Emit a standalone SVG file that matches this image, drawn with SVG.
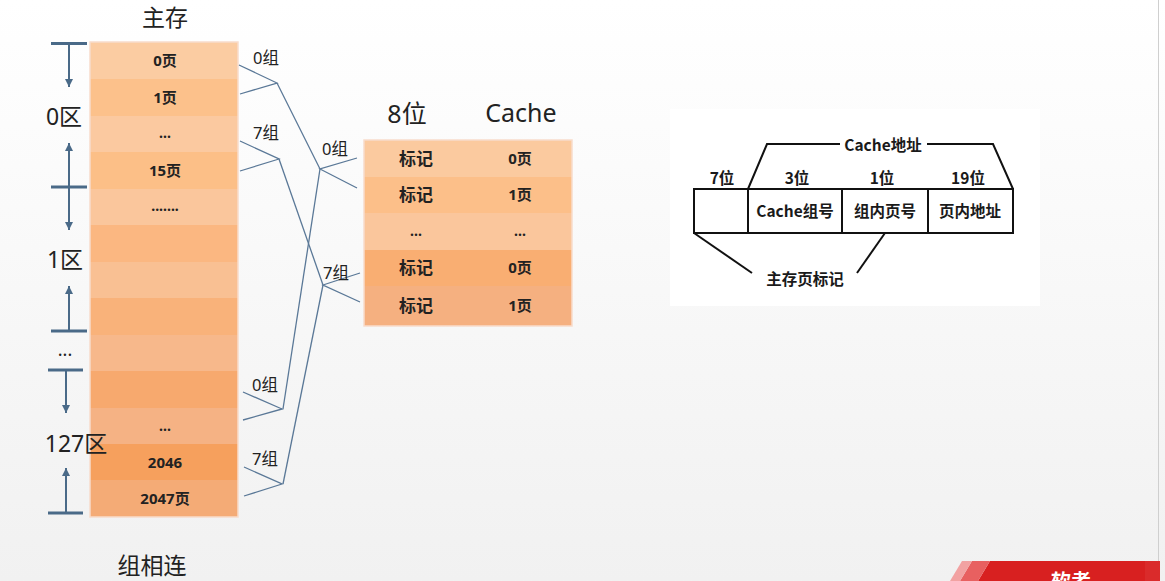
<svg xmlns="http://www.w3.org/2000/svg" width="1165" height="581" viewBox="0 0 1165 581">
<defs>
<linearGradient id="bg" x1="0" y1="0" x2="0" y2="1">
<stop offset="0" stop-color="#ffffff"/>
<stop offset="1" stop-color="#f1f1f1"/>
</linearGradient>
<marker id="ah" viewBox="0 0 10 10" refX="10" refY="5" markerWidth="8" markerHeight="8" markerUnits="userSpaceOnUse" orient="auto">
<path d="M0,0 L10,5 L0,10 z" fill="#4a6a88"/>
</marker>
<style>
.t{font-family:"Noto Sans","Noto Sans CJK SC",sans-serif;fill:#222;}
.big{font-size:23px;}
.cell{font-size:15px;font-weight:bold;text-anchor:middle;fill:#222;font-family:"Noto Sans","Noto Sans CJK SC",sans-serif;}
.dots{font-size:14px;}
.tag{font-size:17px;}
.grp{font-size:16.5px;font-family:"Noto Sans","Noto Sans CJK SC",sans-serif;fill:#222;}
.ax{stroke:#4a6a88;stroke-width:2;fill:none;}
.tick{stroke:#4a6a88;stroke-width:3;}
.cn{stroke:#5a7897;stroke-width:1.3;fill:none;}
.bx{stroke:#111;stroke-width:2;fill:none;}
.rt{font-family:"Noto Sans CJK SC","Noto Sans",sans-serif;font-size:15.5px;font-weight:bold;fill:#1a1a1a;text-anchor:middle;}
</style>
</defs>
<rect width="1165" height="581" fill="url(#bg)"/>

<!-- titles -->
<text class="t big" x="165" y="26" text-anchor="middle">主存</text>
<text class="t big" x="152" y="574" text-anchor="middle">组相连</text>

<!-- main memory column -->
<g id="main-memory">
<rect x="90" y="42" width="148" height="37" fill="#fbcca2"/>
<rect x="90" y="79" width="148" height="37" fill="#fcc18b"/>
<rect x="90" y="116" width="148" height="36" fill="#fbc9a0"/>
<rect x="90" y="152" width="148" height="37" fill="#fcbf87"/>
<rect x="90" y="189" width="148" height="36" fill="#fac69c"/>
<rect x="90" y="225" width="148" height="37" fill="#fbb781"/>
<rect x="90" y="262" width="148" height="36" fill="#f9c093"/>
<rect x="90" y="298" width="148" height="37" fill="#f9b27a"/>
<rect x="90" y="335" width="148" height="36" fill="#f7b88b"/>
<rect x="90" y="371" width="148" height="37" fill="#f7a96e"/>
<rect x="90" y="408" width="148" height="36" fill="#f5b284"/>
<rect x="90" y="444" width="148" height="36" fill="#f6a05d"/>
<rect x="90" y="480" width="148" height="37" fill="#f4ab76"/>
<rect x="90" y="42" width="148" height="475" fill="none" stroke="#f8dccb" stroke-width="1.5"/>
<text class="cell" x="165" y="66">0页</text>
<text class="cell" x="165" y="103">1页</text>
<text class="cell dots" x="165" y="138">...</text>
<text class="cell" x="165" y="176">15页</text>
<text class="cell dots" x="165" y="211">.......</text>
<text class="cell dots" x="165" y="431">...</text>
<text class="cell" x="165" y="468">2046</text>
<text class="cell" x="165" y="504">2047页</text>
</g>

<!-- zone markers -->
<g id="zones">
<line class="tick" x1="51" y1="43.5" x2="87" y2="43.5"/>
<line class="ax" x1="69" y1="43" x2="69" y2="87" marker-end="url(#ah)"/>
<text class="t big" x="64" y="125" text-anchor="middle">0区</text>
<line class="ax" x1="69" y1="187" x2="69" y2="143" marker-end="url(#ah)"/>
<line class="tick" x1="51" y1="187" x2="87" y2="187"/>
<line class="ax" x1="69" y1="187" x2="69" y2="230" marker-end="url(#ah)"/>
<text class="t big" x="65" y="268" text-anchor="middle">1区</text>
<line class="ax" x1="69" y1="331" x2="69" y2="286" marker-end="url(#ah)"/>
<line class="tick" x1="51" y1="331" x2="87" y2="331"/>
<text class="t" x="65" y="356" font-size="18" text-anchor="middle">...</text>
<line class="tick" x1="48" y1="370" x2="83" y2="370"/>
<line class="ax" x1="66" y1="370" x2="66" y2="413" marker-end="url(#ah)"/>
<text class="t big" x="76" y="452" text-anchor="middle">127区</text>
<line class="ax" x1="66" y1="513" x2="66" y2="468" marker-end="url(#ah)"/>
<line class="tick" x1="48" y1="513" x2="83" y2="513"/>
</g>

<!-- connectors -->
<g id="connectors">
<polyline class="cn" points="239,65 277,83 240,94"/>
<line class="cn" x1="277" y1="83" x2="320" y2="169"/>
<polyline class="cn" points="240,141 279,159 240,171"/>
<line class="cn" x1="279" y1="159" x2="323" y2="285"/>
<polyline class="cn" points="357,158 320,169 357,188"/>
<line class="cn" x1="320" y1="169" x2="283" y2="409"/>
<polyline class="cn" points="360,273 323,285 360,302"/>
<line class="cn" x1="323" y1="285" x2="283" y2="484"/>
<polyline class="cn" points="243,392 282,409 243,420"/>
<polyline class="cn" points="244,467 282,484 244,496"/>
<text class="grp" x="266" y="64" text-anchor="middle">0组</text>
<text class="grp" x="266" y="139" text-anchor="middle">7组</text>
<text class="grp" x="335" y="155" text-anchor="middle">0组</text>
<text class="grp" x="336" y="279" text-anchor="middle">7组</text>
<text class="grp" x="265" y="391" text-anchor="middle">0组</text>
<text class="grp" x="265" y="465" text-anchor="middle">7组</text>
</g>

<!-- cache -->
<g id="cache">
<text class="t" x="407" y="123" font-size="25" text-anchor="middle">8位</text>
<text class="t" x="521" y="122" font-size="25" text-anchor="middle">Cache</text>
<rect x="364" y="140" width="208" height="37" fill="#fbca9f"/>
<rect x="364" y="177" width="208" height="36" fill="#fcbf89"/>
<rect x="364" y="213" width="208" height="37" fill="#fac69c"/>
<rect x="364" y="250" width="208" height="36" fill="#f9ae72"/>
<rect x="364" y="286" width="208" height="40" fill="#f5b080"/>
<rect x="364" y="140" width="208" height="186" fill="none" stroke="#f8dccb" stroke-width="1.5"/>
<text class="cell tag" x="416" y="165">标记</text>
<text class="cell" x="520" y="164">0页</text>
<text class="cell tag" x="416" y="201">标记</text>
<text class="cell" x="520" y="200">1页</text>
<text class="cell dots" x="416" y="236">...</text>
<text class="cell dots" x="520" y="236">...</text>
<text class="cell tag" x="416" y="274">标记</text>
<text class="cell" x="520" y="273">0页</text>
<text class="cell tag" x="416" y="312">标记</text>
<text class="cell" x="520" y="311">1页</text>
</g>

<!-- address format -->
<g id="address-format">
<rect x="670" y="109" width="370" height="197" fill="#ffffff"/>
<rect class="bx" x="694" y="189" width="319" height="44"/>
<line class="bx" x1="748" y1="189" x2="748" y2="233"/>
<line class="bx" x1="842" y1="189" x2="842" y2="233"/>
<line class="bx" x1="928" y1="189" x2="928" y2="233"/>
<text class="rt" x="722" y="184">7位</text>
<text class="rt" x="797" y="184">3位</text>
<text class="rt" x="882" y="184">1位</text>
<text class="rt" x="968" y="184">19位</text>
<text class="rt" x="795" y="217">Cache组号</text>
<text class="rt" x="885" y="217">组内页号</text>
<text class="rt" x="970" y="217">页内地址</text>
<polyline class="bx" points="748,189 767,144 840,144"/>
<polyline class="bx" points="927,144 993,144 1013,189"/>
<text class="rt" x="883" y="151">Cache地址</text>
<line class="bx" x1="694" y1="233" x2="752" y2="273"/>
<line class="bx" x1="857" y1="273" x2="885" y2="233"/>
<text class="rt" x="805" y="285">主存页标记</text>
</g>

<!-- footer banner -->
<g id="banner">
<line x1="1158.5" y1="0" x2="1158.5" y2="561" stroke="#cfcfcf" stroke-width="1"/>
<polygon points="990,561 1160,561 1160,581 978,581" fill="#d82020"/>
<polygon points="1145,561 1160,561 1160,581 1145,581" fill="#da2b2b"/>
<polygon points="972,561 990,561 978,581 960,581" fill="#e86060"/>
<polygon points="962,561 972,561 960,581 950,581" fill="#f2a2a2"/>
<text x="1071" y="589" font-family="Noto Sans CJK SC, sans-serif" font-size="20" font-weight="bold" fill="#ffffff" text-anchor="middle">软考</text>
</g>
</svg>
